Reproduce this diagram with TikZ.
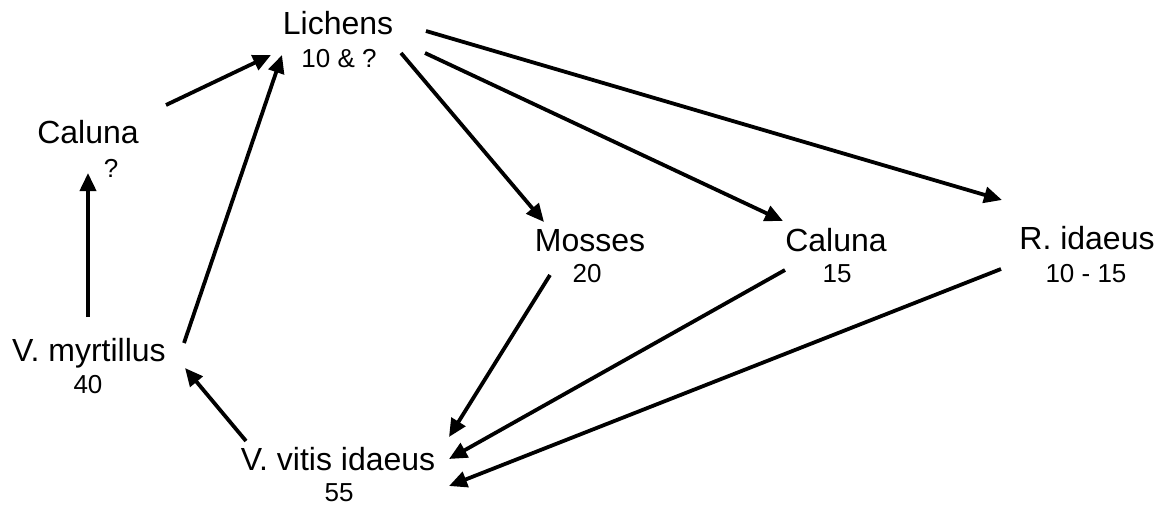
\documentclass[tikz,border=0pt]{standalone}
\usepackage{fontspec}
\setmainfont{Liberation Sans}
\usetikzlibrary{arrows.meta}
\tikzset{
  big/.style={inner sep=0pt, anchor=base, font=\fontsize{32}{36}\selectfont},
  small/.style={inner sep=0pt, anchor=base, font=\fontsize{26}{30}\selectfont},
  conn/.style={line width=3.8pt, -{Triangle[length=18pt,width=16pt]}}
}
\begin{document}
\begin{tikzpicture}[x=1pt,y=-1pt]
\useasboundingbox (0,0) rectangle (1161,506);
% nodes
\node[big] (lich) at (338,34) {Lichens};
\node[small] (lichn) at (339,67) {10 \& ?};
\node[big] (calL) at (88,143) {Caluna};
\node[small] (calLn) at (111,177) {?};
\node[big] (vmyr) at (89,361) {V. myrtillus};
\node[small] (vmyrn) at (88,393) {40};
\node[big] (vvit) at (338,470) {V. vitis idaeus};
\node[small] (vvitn) at (339,501) {55};
\node[big] (moss) at (590,251) {Mosses};
\node[small] (mossn) at (587,282) {20};
\node[big] (calM) at (836,251) {Caluna};
\node[small] (calMn) at (837,282) {15};
\node[big] (ridae) at (1087,249) {R. idaeus};
\node[small] (ridaen) at (1086,282) {10 - 15};
% connector ends
\coordinate (calL-out) at (166,105);
\coordinate (lich-in1) at (271,55);
\coordinate (vmyr-out1) at (88,317);
\coordinate (calL-in) at (88,173);
\coordinate (vmyr-out2) at (184,343);
\coordinate (lich-in2) at (282,55);
\coordinate (vvit-out) at (246,441);
\coordinate (vmyr-in) at (185,368);
\coordinate (lich-out1) at (401,53);
\coordinate (moss-in) at (544,222);
\coordinate (lich-out2) at (425,53);
\coordinate (calM-in) at (783,221);
\coordinate (lich-out3) at (426,31);
\coordinate (ridae-in) at (1002,200);
\coordinate (moss-out) at (550,275);
\coordinate (vvit-in1) at (449,437);
\coordinate (calM-out) at (785,270);
\coordinate (vvit-in2) at (449,459);
\coordinate (ridae-out) at (1001,269);
\coordinate (vvit-in3) at (449,486);
% connectors
\draw[conn] (calL-out) -- (lich-in1);
\draw[conn] (vmyr-out1) -- (calL-in);
\draw[conn] (vmyr-out2) -- (lich-in2);
\draw[conn] (vvit-out) -- (vmyr-in);
\draw[conn] (lich-out1) -- (moss-in);
\draw[conn] (lich-out2) -- (calM-in);
\draw[conn] (lich-out3) -- (ridae-in);
\draw[conn] (moss-out) -- (vvit-in1);
\draw[conn] (calM-out) -- (vvit-in2);
\draw[conn] (ridae-out) -- (vvit-in3);
\end{tikzpicture}
\end{document}
